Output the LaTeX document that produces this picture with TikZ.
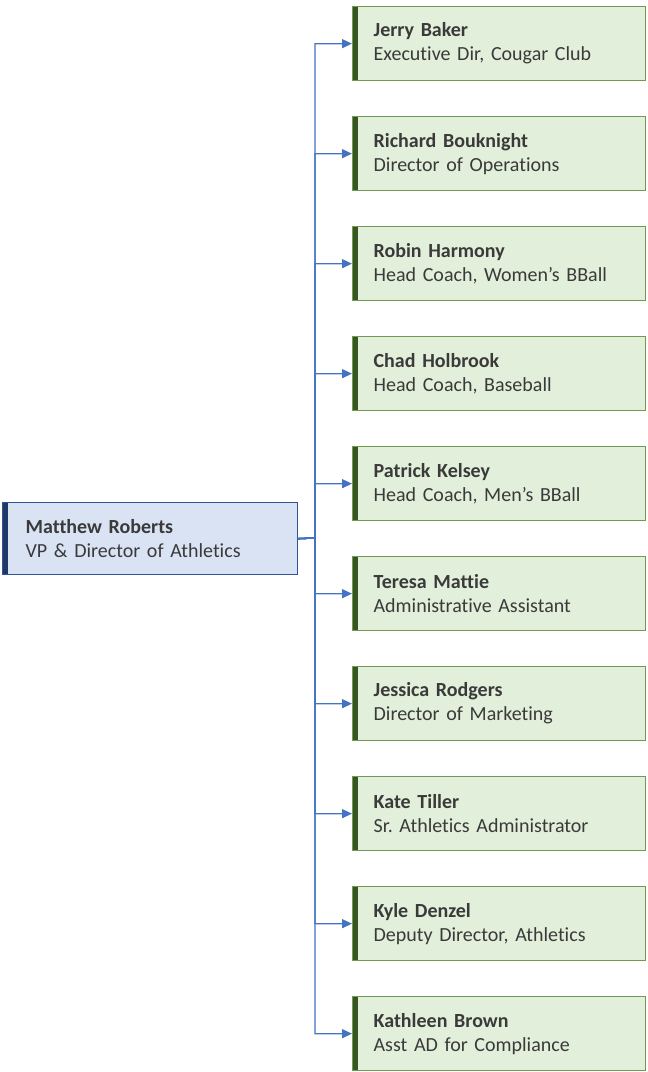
\documentclass[tikz,border=0pt]{standalone}
\usepackage{fontspec}
\setmainfont{Carlito}[Ligatures=NoCommon]
\usepackage{xcolor}
\usetikzlibrary{arrows.meta,positioning}
\frenchspacing

\definecolor{rootfill}{HTML}{DAE3F3}
\definecolor{rootline}{HTML}{2F5597}
\definecolor{rootbar}{HTML}{1F3864}
\definecolor{kidfill}{HTML}{E2EFDA}
\definecolor{kidline}{HTML}{6F9A50}
\definecolor{kidbar}{HTML}{375623}
\definecolor{linkblue}{HTML}{4472C4}
\definecolor{txtgrey}{HTML}{3A3A3A}

\tikzset{
  person/.style={draw=kidline, fill=kidfill, line width=1.3pt, rectangle, anchor=north west,
    minimum width=293pt, minimum height=74pt, inner xsep=21pt, text width=251pt, align=left,
    text=txtgrey, font=\fontsize{20}{24}\selectfont,
    path picture={\fill[kidbar] (path picture bounding box.north west) rectangle ([xshift=5pt]path picture bounding box.south west);}},
  boss/.style={person, draw=rootline, fill=rootfill, minimum width=295pt, minimum height=72pt,
    inner xsep=23pt, text width=249pt,
    path picture={\fill[rootbar] (path picture bounding box.north west) rectangle ([xshift=5pt]path picture bounding box.south west);}},
  link/.style={draw=linkblue, line width=1.3pt, -{Triangle[length=10pt,width=9pt]}}
}

\begin{document}
\begin{tikzpicture}[x=1pt,y=-1pt]
  \useasboundingbox (0,0) rectangle (648,1072);
  \node[boss] (matthew) at (2,502) {\textbf{Matthew Roberts}\\VP \& Director of Athletics}; % head
  \node[person] (jerry) at (352,6) {\textbf{Jerry Baker}\\Executive Dir, Cougar Club};
  \node[person] (richard) at (352,116) {\textbf{Richard Bouknight}\\Director of Operations};
  \node[person] (robin) at (352,226) {\textbf{Robin Harmony}\\Head Coach, Women's BBall};
  \node[person] (chad) at (352,336) {\textbf{Chad Holbrook}\\Head Coach, Baseball};
  \node[person] (patrick) at (352,446) {\textbf{Patrick Kelsey}\\Head Coach, Men's BBall};
  \node[person] (teresa) at (352,556) {\textbf{Teresa Mattie}\\Administrative Assistant};
  \node[person] (jessica) at (352,666) {\textbf{Jessica Rodgers}\\Director of Marketing};
  \node[person] (kate) at (352,776) {\textbf{Kate Tiller}\\Sr. Athletics Administrator};
  \node[person] (kyle) at (352,886) {\textbf{Kyle Denzel}\\Deputy Director, Athletics};
  \node[person] (kathleen) at (352,996) {\textbf{Kathleen Brown}\\Asst AD for Compliance};
  \coordinate (trunk) at (315,538); % vertical bus
  \draw[link] (matthew.east) -- (trunk) |- (jerry.west);
  \draw[link] (matthew.east) -- (trunk) |- (richard.west);
  \draw[link] (matthew.east) -- (trunk) |- (robin.west);
  \draw[link] (matthew.east) -- (trunk) |- (chad.west);
  \draw[link] (matthew.east) -- (trunk) |- (patrick.west);
  \draw[link] (matthew.east) -- (trunk) |- (teresa.west);
  \draw[link] (matthew.east) -- (trunk) |- (jessica.west);
  \draw[link] (matthew.east) -- (trunk) |- (kate.west);
  \draw[link] (matthew.east) -- (trunk) |- (kyle.west);
  \draw[link] (matthew.east) -- (trunk) |- (kathleen.west);
\end{tikzpicture}
\end{document}
